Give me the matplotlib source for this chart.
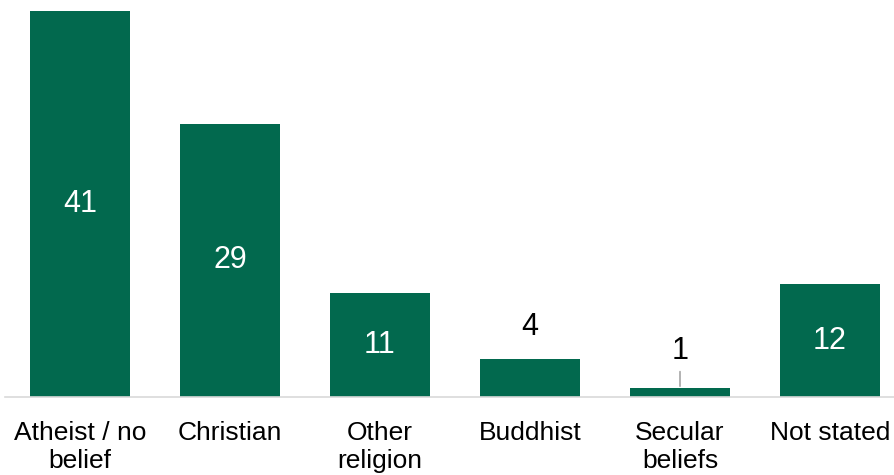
import matplotlib

matplotlib.use("Agg")
import matplotlib.pyplot as plt  # noqa: E402

GREEN = "#02694E"
AXISGRAY = "#D9D9D9"
LEADER = "#A6A6A6"

categories = ["Atheist / no\nbelief", "Christian", "Other\nreligion",
              "Buddhist", "Secular\nbeliefs", "Not stated"]
values = [41, 29, 11, 4, 1, 12]
# bars too short to hold their label get it above, in black
outside = [False, False, False, True, True, False]

plt.rcParams.update({
    "font.family": ["Liberation Sans", "DejaVu Sans"],
    "font.size": 19,
})

fig = plt.figure(figsize=(8.95, 4.75), dpi=100)
# plot area runs a little past the right edge, as in the original layout
ax = fig.add_axes([5 / 895, 78 / 475, 900 / 895, 386 / 475])

x = range(len(values))
bars = ax.bar(x, values, width=0.667, color=GREEN, zorder=2)

for xi, v, out in zip(x, values, outside):
    if out:
        lead = v < 2
        ax.annotate(str(v), xy=(xi, v), xytext=(0, 26 if lead else 23),
                    textcoords="offset points", ha="center", va="center",
                    color="black", fontsize=22)
        if lead:
            ax.annotate("", xy=(xi, v), xytext=(0, 11.5),
                        textcoords="offset points",
                        arrowprops=dict(arrowstyle="-", color=LEADER, lw=1.2,
                                        shrinkA=0, shrinkB=1))
    else:
        ax.text(xi, v / 2, str(v), ha="center", va="center", color="white",
                fontsize=22)

ax.set_xlim(-0.5, 5.5)
ax.set_ylim(0, 41)
ax.set_xticks(list(x))
ax.set_xticklabels(categories, linespacing=1.25)
ax.tick_params(axis="x", length=0, pad=17)
ax.set_yticks([])
for s in ("top", "right", "left"):
    ax.spines[s].set_visible(False)
ax.spines["bottom"].set_color(AXISGRAY)
ax.spines["bottom"].set_linewidth(1.2)

fig.savefig("out.png", dpi=100)
